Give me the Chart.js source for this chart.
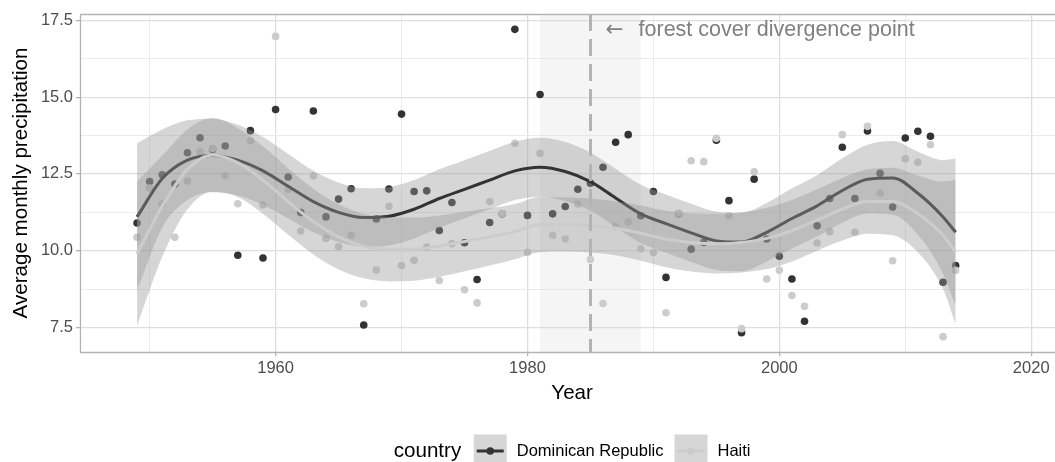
<!DOCTYPE html>
<html>
<head>
<meta charset="utf-8">
<title>Average monthly precipitation: Dominican Republic vs Haiti</title>
<script src="https://cdn.jsdelivr.net/npm/chart.js@4.4.1/dist/chart.umd.min.js"></script>
<style>
  html, body { margin: 0; padding: 0; background: #ffffff; overflow: hidden; }
  #wrap { width: 1055px; height: 462px; overflow: hidden; position: relative; }
  canvas { display: block; }
</style>
</head>
<body>
<div id="wrap"><canvas id="chart" width="1068" height="462"></canvas></div>
<script>
// ---- annual observations ----
const YEARS = [1949,1950,1951,1952,1953,1954,1955,1956,1957,1958,1959,1960,1961,1962,1963,1964,1965,1966,1967,1968,1969,1970,1971,1972,1973,1974,1975,1976,1977,1978,1979,1980,1981,1982,1983,1984,1985,1986,1987,1988,1989,1990,1991,1992,1993,1994,1995,1996,1997,1998,1999,2000,2001,2002,2003,2004,2005,2006,2007,2008,2009,2010,2011,2012,2013,2014];

const DR_PRECIP = [10.90,12.25,12.47,12.17,13.19,13.68,13.30,13.41,9.85,13.91,9.76,14.60,12.40,11.24,14.55,11.10,11.68,12.02,7.58,11.03,12.01,14.45,11.93,11.95,10.66,11.57,10.26,9.06,10.92,11.20,17.21,11.15,15.09,11.20,11.44,12.00,12.20,12.72,13.53,13.78,11.14,11.93,9.13,11.20,10.05,10.27,13.60,11.63,7.33,12.33,10.38,9.82,9.08,7.70,10.81,11.70,13.37,11.70,13.90,12.52,11.42,13.67,13.89,13.73,8.97,9.52];

const HT_PRECIP = [10.44,12.04,11.52,10.44,12.27,13.22,13.33,12.44,11.53,13.58,11.49,16.98,12.00,10.64,12.44,10.40,10.13,10.50,8.27,9.37,11.45,9.52,9.69,10.12,9.03,10.23,8.73,8.30,11.60,11.21,13.50,9.95,13.17,10.50,10.38,11.52,9.71,8.28,10.79,10.94,10.06,9.94,7.98,11.22,12.93,12.90,13.66,11.14,7.46,12.57,9.08,9.36,8.54,8.19,10.25,10.62,13.78,10.60,14.05,11.87,9.67,12.99,12.88,13.45,7.20,9.36];

// ---- loess fits with confidence bands ----
const SMOOTH_YEARS = [1949,1951,1953,1955,1957,1959,1961,1963,1965,1967,1969,1971,1973,1975,1977,1979,1981,1983,1985,1987,1989,1991,1993,1995,1997,1999,2001,2003,2005,2007,2009,2011,2013,2014];

const DR_FIT   = [11.10,12.35,12.95,13.10,12.95,12.60,12.10,11.60,11.25,11.08,11.12,11.35,11.70,12.00,12.30,12.60,12.72,12.58,12.25,11.72,11.20,10.88,10.58,10.32,10.28,10.60,11.05,11.46,11.96,12.33,12.37,11.87,11.10,10.60];
const DR_UPPER = [13.50,13.95,14.25,14.30,14.10,13.70,13.15,12.60,12.22,12.03,12.07,12.30,12.65,12.95,13.25,13.55,13.68,13.54,13.20,12.67,12.15,11.83,11.53,11.27,11.23,11.55,12.03,12.46,13.01,13.45,13.57,13.22,12.95,13.00];
const DR_LOWER = [8.70,10.75,11.65,11.90,11.80,11.50,11.05,10.60,10.28,10.13,10.17,10.40,10.75,11.05,11.35,11.65,11.76,11.62,11.30,10.77,10.25,9.93,9.63,9.37,9.33,9.65,10.07,10.46,10.91,11.21,11.17,10.52,9.25,8.20];

const HT_FIT   = [9.90,11.45,12.65,13.12,12.87,12.30,11.60,10.95,10.45,10.15,10.05,10.05,10.15,10.30,10.45,10.62,10.85,10.85,10.82,10.73,10.57,10.38,10.27,10.23,10.27,10.40,10.65,11.00,11.35,11.60,11.60,11.20,10.50,9.95];
const HT_UPPER = [12.25,13.10,13.95,14.32,13.99,13.40,12.68,12.02,11.51,11.20,11.10,11.08,11.15,11.27,11.38,11.52,11.75,11.73,11.70,11.61,11.47,11.30,11.22,11.20,11.25,11.40,11.65,12.00,12.37,12.65,12.70,12.45,12.25,12.30];
const HT_LOWER = [7.55,9.80,11.35,11.92,11.75,11.20,10.52,9.88,9.39,9.10,9.00,9.02,9.15,9.33,9.52,9.72,9.95,9.97,9.94,9.85,9.67,9.46,9.32,9.26,9.29,9.40,9.65,10.00,10.33,10.55,10.50,9.95,8.75,7.60];

// ---- labels and reference marks ----
const COUNTRIES = ['Dominican Republic', 'Haiti'];
const LEGEND_TITLE = 'country';
const X_TITLE = 'Year';
const Y_TITLE = 'Average monthly precipitation';
const X_TICK_LABELS = [1960, 1980, 2000, 2020];
const Y_TICK_LABELS = [7.5, 10.0, 12.5, 15.0, 17.5];
const DIVERGENCE_YEAR = 1985;
const SHADE_YEARS = [1981, 1989];
const NOTE_ARROW = '\u2190';
const NOTE_TEXT = 'forest cover divergence point';
const NOTE_POS = [1986.2, 17.0];

// ---- styling ----
const FONT = '"Liberation Sans", Arial, Helvetica, sans-serif';
const COL_DR = '#333333';
const COL_HT = '#cccccc';
const RIBBON = 'rgba(153,153,153,0.4)';

const pts = (xs, ys) => xs.map((x, i) => ({ x: x, y: ys[i] }));
const near = (v, list) => list.some(t => Math.abs(t - v) < 1e-6);

const scatterStyle = (color, order) => ({
  showLine: false, pointRadius: 3.8, pointHoverRadius: 3.8,
  pointBackgroundColor: color, pointBorderWidth: 0, borderWidth: 0, order: order
});
const bandStyle = (fill, order) => ({
  showLine: true, pointRadius: 0, borderWidth: 0, borderColor: 'rgba(0,0,0,0)',
  backgroundColor: RIBBON, fill: fill, cubicInterpolationMode: 'monotone', order: order
});
const fitStyle = (color, order) => ({
  showLine: true, pointRadius: 0, borderWidth: 3, borderColor: color,
  fill: false, cubicInterpolationMode: 'monotone', order: order,
  borderCapStyle: 'butt', borderJoinStyle: 'round'
});

const datasets = [
  Object.assign({ label: COUNTRIES[0] + ' obs', data: pts(YEARS, DR_PRECIP) }, scatterStyle(COL_DR, 6)),
  Object.assign({ label: COUNTRIES[1] + ' obs', data: pts(YEARS, HT_PRECIP) }, scatterStyle(COL_HT, 5)),
  Object.assign({ label: COUNTRIES[0] + ' upper', data: pts(SMOOTH_YEARS, DR_UPPER) }, bandStyle('+1', 4)),
  Object.assign({ label: COUNTRIES[0] + ' lower', data: pts(SMOOTH_YEARS, DR_LOWER) }, bandStyle(false, 4)),
  Object.assign({ label: COUNTRIES[0], data: pts(SMOOTH_YEARS, DR_FIT) }, fitStyle(COL_DR, 3)),
  Object.assign({ label: COUNTRIES[1] + ' upper', data: pts(SMOOTH_YEARS, HT_UPPER) }, bandStyle('+1', 2)),
  Object.assign({ label: COUNTRIES[1] + ' lower', data: pts(SMOOTH_YEARS, HT_LOWER) }, bandStyle(false, 2)),
  Object.assign({ label: COUNTRIES[1], data: pts(SMOOTH_YEARS, HT_FIT) }, fitStyle(COL_HT, 1))
];

// Shaded period, divergence marker, note, titles, panel border and legend
const decor = {
  id: 'decor',
  beforeDatasetsDraw(chart) {
    const { ctx, chartArea: a, scales: { x } } = chart;
    const x0 = x.getPixelForValue(SHADE_YEARS[0]);
    const x1 = x.getPixelForValue(SHADE_YEARS[1]);
    ctx.save();
    ctx.fillStyle = 'rgba(215,215,215,0.24)';
    ctx.fillRect(x0, a.top, x1 - x0, a.bottom - a.top);
    ctx.restore();
  },
  afterDatasetsDraw(chart) {
    const { ctx, chartArea: a, scales: { x, y } } = chart;
    ctx.save();
    // divergence year marker
    const xv = Math.round(x.getPixelForValue(DIVERGENCE_YEAR)) + 0.5;
    ctx.strokeStyle = '#b3b3b3';
    ctx.lineWidth = 3;
    ctx.setLineDash([17, 8]);
    ctx.beginPath();
    ctx.moveTo(xv, a.top);
    ctx.lineTo(xv, a.bottom);
    ctx.stroke();
    ctx.setLineDash([]);
    // note: arrow then text
    const nx = x.getPixelForValue(NOTE_POS[0]);
    const ny = y.getPixelForValue(NOTE_POS[1]);
    ctx.fillStyle = '#808080';
    ctx.textAlign = 'left';
    ctx.textBaseline = 'alphabetic';
    ctx.font = '21.5px "DejaVu Sans", ' + FONT;
    ctx.fillText(NOTE_ARROW, nx, ny);
    ctx.font = '21.5px ' + FONT;
    ctx.fillText(NOTE_TEXT, nx + 33, ny);
    // panel border (top, left, bottom)
    ctx.strokeStyle = '#b3b3b3';
    ctx.lineWidth = 1.3;
    ctx.beginPath();
    ctx.moveTo(a.left, a.top + 0.5);
    ctx.lineTo(a.right, a.top + 0.5);
    ctx.moveTo(a.left + 0.5, a.top);
    ctx.lineTo(a.left + 0.5, a.bottom);
    ctx.moveTo(a.left, a.bottom + 0.5);
    ctx.lineTo(a.right, a.bottom + 0.5);
    ctx.stroke();
    ctx.restore();
  },
  afterDraw(chart) {
    const { ctx, chartArea: a } = chart;
    const cx = (a.left + a.right) / 2;
    const cy = (a.top + a.bottom) / 2;
    ctx.save();
    // axis titles
    ctx.fillStyle = '#000000';
    ctx.font = '20.6px ' + FONT;
    ctx.textAlign = 'center';
    ctx.textBaseline = 'middle';
    ctx.fillText(X_TITLE, cx, a.bottom + 41);
    ctx.save();
    ctx.translate(a.left - 59, cy);
    ctx.rotate(-Math.PI / 2);
    ctx.fillText(Y_TITLE, 0, 0);
    ctx.restore();

    // legend
    const ly = 451, key = 33;
    ctx.font = '20.6px ' + FONT;
    const titleW = ctx.measureText(LEGEND_TITLE).width;
    ctx.font = '16.5px ' + FONT;
    const labW = COUNTRIES.map(t => ctx.measureText(t).width);
    const total = titleW + 12.5 + key + 10 + labW[0] + 11 + key + 10 + labW[1];
    let lx = cx - total / 2;
    ctx.textAlign = 'left';
    ctx.fillStyle = '#000000';
    ctx.font = '20.6px ' + FONT;
    ctx.fillText(LEGEND_TITLE, lx, ly);
    lx += titleW + 12.5;
    const colors = [COL_DR, COL_HT];
    COUNTRIES.forEach((name, i) => {
      ctx.fillStyle = RIBBON;
      ctx.fillRect(lx, ly - key / 2, key, key);
      ctx.strokeStyle = colors[i];
      ctx.lineWidth = 3;
      ctx.beginPath();
      ctx.moveTo(lx + 3, ly);
      ctx.lineTo(lx + key - 3, ly);
      ctx.stroke();
      ctx.fillStyle = colors[i];
      ctx.beginPath();
      ctx.arc(lx + key / 2, ly, 3.8, 0, Math.PI * 2);
      ctx.fill();
      lx += key + 10;
      ctx.fillStyle = '#000000';
      ctx.font = '16.5px ' + FONT;
      ctx.fillText(name, lx, ly);
      lx += labW[i] + 11;
    });
    ctx.restore();
  }
};

new Chart(document.getElementById('chart'), {
  type: 'line',
  data: { datasets: datasets },
  plugins: [decor],
  options: {
    responsive: false,
    animation: false,
    events: [],
    layout: { padding: { top: 14, right: 2, left: 0, bottom: 0 } },
    plugins: { legend: { display: false }, tooltip: { enabled: false } },
    scales: {
      x: {
        type: 'linear',
        min: 1944.47,
        max: 2022.62,
        afterFit(s) { s.height = 110; },
        border: { display: false },
        grid: {
          color: c => near(c.tick.value, X_TICK_LABELS) ? '#dedede' : '#ebebeb',
          lineWidth: c => near(c.tick.value, X_TICK_LABELS) ? 1.3 : 1,
          tickColor: c => near(c.tick.value, X_TICK_LABELS) ? '#b3b3b3' : 'rgba(0,0,0,0)',
          tickLength: 4,
          tickWidth: 1.3
        },
        ticks: {
          stepSize: 10,
          includeBounds: false,
          autoSkip: false,
          maxRotation: 0,
          padding: 3,
          color: '#4d4d4d',
          font: { family: FONT, size: 16.5 },
          callback: v => near(v, X_TICK_LABELS) ? String(v) : ''
        }
      },
      y: {
        type: 'linear',
        min: 6.70,
        max: 17.71,
        afterFit(s) { s.width = 80; },
        border: { display: false },
        grid: {
          color: c => near(c.tick.value, Y_TICK_LABELS) ? '#dedede' : '#ebebeb',
          lineWidth: c => near(c.tick.value, Y_TICK_LABELS) ? 1.3 : 1,
          tickColor: c => near(c.tick.value, Y_TICK_LABELS) ? '#b3b3b3' : 'rgba(0,0,0,0)',
          tickLength: 4,
          tickWidth: 1.3
        },
        ticks: {
          stepSize: 1.25,
          includeBounds: false,
          autoSkip: false,
          padding: 3,
          color: '#4d4d4d',
          font: { family: FONT, size: 16.5 },
          callback: v => near(v, Y_TICK_LABELS) ? v.toFixed(1) : ''
        }
      }
    }
  }
});
</script>
</body>
</html>
